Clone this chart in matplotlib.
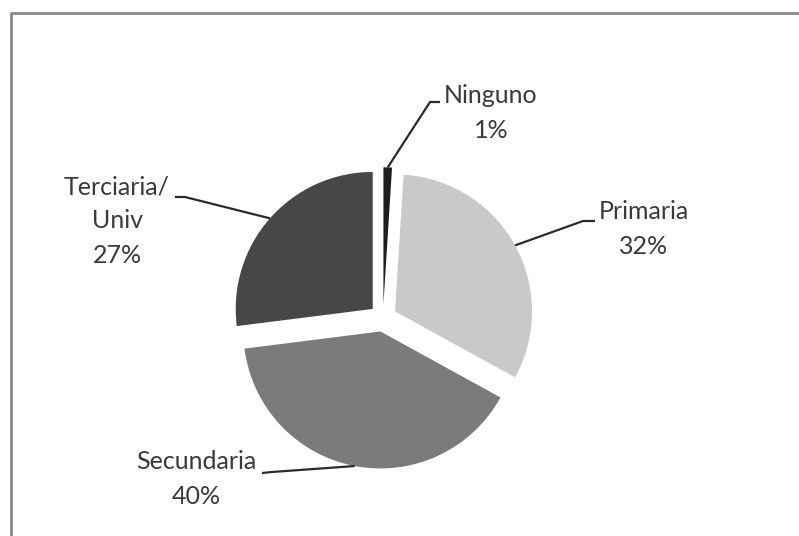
import numpy as np
import matplotlib
matplotlib.use("Agg")
import matplotlib.pyplot as plt

plt.rcParams['font.family'] = ['Lato', 'DejaVu Sans']

# data
labels = ["Ninguno", "Primaria", "Secundaria", "Terciaria/\nUniv"]
values = [1, 32, 40, 27]
colors = ["#1e1e1e", "#c9c9c9", "#7b7b7b", "#474747"]

# layout (pixel coords, y measured from top)
W, H = 799, 536
cx, cy, R = 383, 318, 137
text_pos = [(491, 113), (644, 229), (196, 479), (117, 221)]
elbows = [[(430, 102), (440, 102)],
          [(583, 221), (595, 221)],
          [(272, 472), (262, 473)],
          [(185, 197), (175, 197)]]

fig = plt.figure(figsize=(W / 100, H / 100), dpi=100)
ax = fig.add_axes([0, 0, 1, 1])

explode = 0.1
wedges, _ = ax.pie(values, colors=colors, startangle=90, counterclock=False,
                   explode=[explode * R] * len(values), radius=R, center=(cx, H - cy),
                   wedgeprops=dict(linewidth=0))
ax.set_xlim(0, W)
ax.set_ylim(0, H)
ax.set_aspect("equal")
ax.axis("off")

total = sum(values)
for w, lab, v, (tx, ty), elb in zip(wedges, labels, values, text_pos, elbows):
    mid = np.deg2rad((w.theta1 + w.theta2) / 2)
    ax_x = cx + R * (1 + explode) * np.cos(mid)
    ax_y = (H - cy) + R * (1 + explode) * np.sin(mid)
    xs = [ax_x] + [p[0] for p in elb]
    ys = [ax_y] + [H - p[1] for p in elb]
    ax.plot(xs, ys, color="#2b2b2b", lw=1.6, solid_capstyle="butt")
    ax.text(tx, H - ty, f"{lab}\n{round(v / total * 100)}%", ha="center", va="center",
            fontsize=18, color="#3a3a3a", linespacing=1.6)

# frame (only top and left edges visible in the crop)
ax.plot([11, 11, W], [0, H - 13, H - 13], color="#8a8a8a", lw=2, clip_on=False)

fig.savefig("out.png", dpi=100)
